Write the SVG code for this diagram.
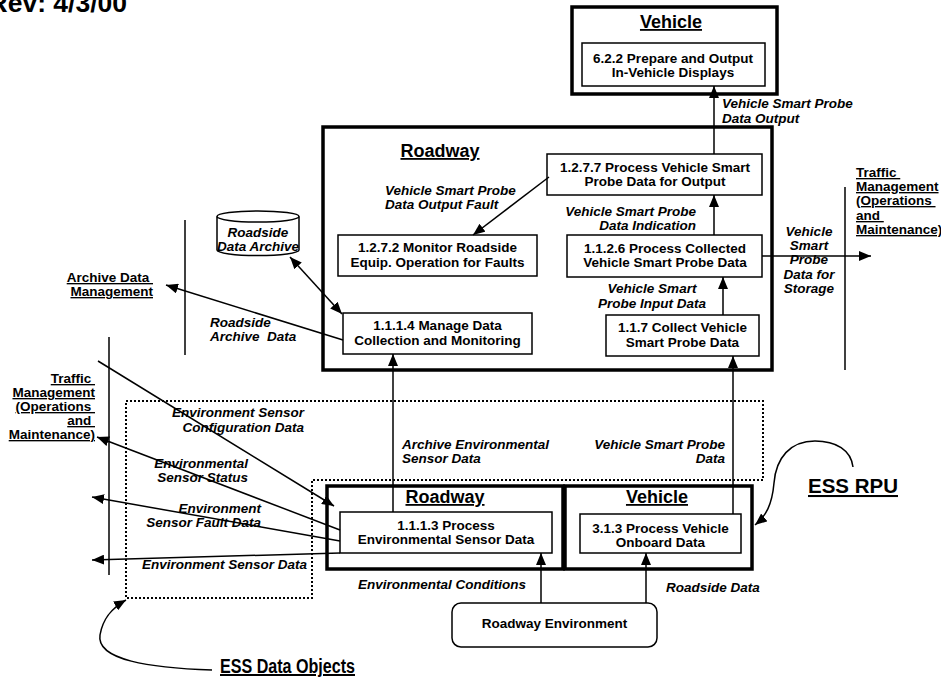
<svg xmlns="http://www.w3.org/2000/svg" width="941" height="683" viewBox="0 0 941 683">
  <style>
    text { font-family: "Liberation Sans", Arial, sans-serif; fill: #000; }
    .bx { font-weight: bold; font-size: 13.5px; text-anchor: middle; }
    .lb { font-weight: bold; font-style: italic; font-size: 13.5px; }
    .ttl { font-weight: bold; font-size: 18px; text-anchor: middle; text-decoration: underline; }
    .ext { font-weight: bold; font-size: 13.5px; text-decoration: underline; }
    .box { fill: #fff; stroke: #000; stroke-width: 1.5; }
    .thick { fill: none; stroke: #000; stroke-width: 3.5; }
    .cn { fill: none; stroke: #000; stroke-width: 1.5; }
    .arr { marker-end: url(#ah); }
    .dot { fill: none; stroke: #000; stroke-width: 2; stroke-dasharray: 2 2; }
    .mid { text-anchor: middle; }
    .end { text-anchor: end; }
  </style>
  <defs>
    <marker id="ah" viewBox="0 0 12 10" refX="12" refY="5" markerWidth="12" markerHeight="10" markerUnits="userSpaceOnUse" orient="auto-start-reverse">
      <path d="M0,0 L12,5 L0,10 z" fill="#000"/>
    </marker>
  </defs>
  <rect width="941" height="683" fill="#fff"/>

  <!-- revision stamp -->
  <text x="127" y="12" font-size="26.5" font-weight="bold" text-anchor="end">Rev: 4/3/00</text>

  <!-- data-object grouping outline -->
  <path class="dot" d="M126,401 H763 V480 H312 V598 H126 Z"/>

  <!-- external boundary lines -->
  <g id="boundaries">
    <line class="cn" x1="185" y1="220" x2="185" y2="355"/>
    <line class="cn" x1="109" y1="337" x2="109" y2="575"/>
    <line class="cn" x1="845" y1="187" x2="845" y2="370"/>
  </g>

  <!-- Vehicle (top) -->
  <g id="vehicle-top">
    <rect class="thick" x="572" y="7" width="205" height="87"/>
    <text class="ttl" x="671" y="28">Vehicle</text>
  </g>
  <g id="p622">
    <rect class="box" x="582" y="43" width="183" height="43"/>
    <text class="bx" x="673" y="63">6.2.2 Prepare and Output</text>
    <text class="bx" x="673" y="77">In-Vehicle Displays</text>
  </g>

  <!-- Roadway (upper) -->
  <g id="roadway-top">
    <rect class="thick" x="323" y="127" width="449" height="243"/>
    <text class="ttl" x="440" y="157">Roadway</text>
  </g>
  <g id="p1277">
    <rect class="box" x="547" y="154" width="215" height="41"/>
    <text class="bx" x="655" y="172">1.2.7.7 Process Vehicle Smart</text>
    <text class="bx" x="655" y="186">Probe Data for Output</text>
  </g>
  <g id="p1272">
    <rect class="box" x="338" y="235" width="199" height="41"/>
    <text class="bx" x="437.5" y="252">1.2.7.2 Monitor Roadside</text>
    <text class="bx" x="437.5" y="267">Equip. Operation for Faults</text>
  </g>
  <g id="p1126">
    <rect class="box" x="567" y="235" width="195" height="42"/>
    <text class="bx" x="665" y="253">1.1.2.6 Process Collected</text>
    <text class="bx" x="665" y="267">Vehicle Smart Probe Data</text>
  </g>
  <g id="p1114">
    <rect class="box" x="343" y="313" width="189" height="41"/>
    <text class="bx" x="437.5" y="330">1.1.1.4 Manage Data</text>
    <text class="bx" x="437.5" y="345">Collection and Monitoring</text>
  </g>
  <g id="p117">
    <rect class="box" x="606" y="315" width="153" height="41"/>
    <text class="bx" x="682.5" y="332">1.1.7 Collect Vehicle</text>
    <text class="bx" x="682.5" y="347">Smart Probe Data</text>
  </g>

  <!-- Roadside Data Archive store -->
  <g id="archive">
    <path d="M217,216.5 V250 A41,5.5 0 0 0 299,250 V216.5" fill="#fff" stroke="#000" stroke-width="1.5"/>
    <ellipse cx="258" cy="216.5" rx="41" ry="5.5" fill="#fff" stroke="#000" stroke-width="1.5"/>
    <text class="lb mid" x="258" y="237">Roadside</text>
    <text class="lb mid" x="258" y="251">Data Archive</text>
  </g>

  <!-- terminators -->
  <g id="adm">
    <text class="ext end" x="153" y="282" xml:space="preserve">Archive Data </text>
    <text class="ext end" x="153" y="296">Management</text>
  </g>
  <g id="tm-left">
    <text class="ext end" x="95" y="383" font-size="13" xml:space="preserve">Traffic </text>
    <text class="ext end" x="95" y="397" font-size="13">Management</text>
    <text class="ext end" x="95" y="411" font-size="13" xml:space="preserve">(Operations </text>
    <text class="ext end" x="95" y="425" font-size="13" xml:space="preserve">and </text>
    <text class="ext end" x="95" y="439" font-size="13">Maintenance)</text>
  </g>
  <g id="tm-right">
    <text class="ext" x="856" y="177" xml:space="preserve">Traffic </text>
    <text class="ext" x="856" y="191">Management</text>
    <text class="ext" x="856" y="205" xml:space="preserve">(Operations </text>
    <text class="ext" x="856" y="220" xml:space="preserve">and </text>
    <text class="ext" x="856" y="234">Maintenance)</text>
  </g>

  <!-- Roadway / Vehicle (lower) -->
  <g id="roadway-low">
    <rect class="thick" x="327" y="486" width="236" height="83"/>
    <text class="ttl" x="445" y="503">Roadway</text>
  </g>
  <g id="vehicle-low">
    <rect class="thick" x="565" y="486" width="187" height="83"/>
    <text class="ttl" x="657" y="503">Vehicle</text>
  </g>
  <g id="p1113">
    <rect class="box" x="340" y="512" width="212" height="41"/>
    <text class="bx" x="446" y="530">1.1.1.3 Process</text>
    <text class="bx" x="446" y="544">Environmental Sensor Data</text>
  </g>
  <g id="p313">
    <rect class="box" x="580" y="514" width="161" height="39"/>
    <text class="bx" x="660.5" y="533">3.1.3 Process Vehicle</text>
    <text class="bx" x="660.5" y="547">Onboard Data</text>
  </g>
  <g id="roadway-env">
    <rect class="box" x="452" y="603" width="205" height="44" rx="9"/>
    <text class="bx" x="554.5" y="628">Roadway Environment</text>
  </g>

  <!-- callouts -->
  <g id="ess-data-objects">
    <text x="220" y="673" font-family="'Liberation Sans Narrow', 'Liberation Sans', sans-serif" font-weight="bold" font-size="20" text-decoration="underline" textLength="135" lengthAdjust="spacingAndGlyphs">ESS Data Objects</text>
  </g>
  <g id="ess-rpu">
    <text x="808" y="493" font-weight="bold" font-size="20.5" text-decoration="underline">ESS RPU</text>
  </g>

  <!-- connectors -->
  <g id="connectors">
    <path class="cn arr" d="M714,154 V86"/>
    <path class="cn arr" d="M549,177 L473,235"/>
    <path class="cn arr" d="M714,235 V195"/>
    <path class="cn arr" d="M723,315 V277"/>
    <path class="cn arr" d="M762,256 H871"/>
    <path class="cn arr" d="M343,340 L166,285"/>
    <path class="cn arr" d="M342,314 L290,257" marker-start="url(#ah)"/>
    <path class="cn arr" d="M393,512 V354"/>
    <path class="cn arr" d="M733,514 V356"/>
    <path class="cn arr" d="M98,361 L334,506"/>
    <path class="cn arr" d="M340,530 L97,437"/>
    <path class="cn arr" d="M340,541 L92,497"/>
    <path class="cn arr" d="M340,553 L92,560"/>
    <path class="cn arr" d="M541,603 V553"/>
    <path class="cn arr" d="M646,603 V553"/>
    <path class="cn arr" d="M212,670 C150,668 96,660 100,635 C103,618 112,608 126,600"/>
    <path class="cn arr" d="M853,467 C851,450 836,441 815,441 C790,441 776,458 774,483 C772,505 766,516 755,525"/>
  </g>

  <!-- flow labels -->
  <g id="flow-labels">
    <text class="lb" x="722" y="108">Vehicle Smart Probe</text>
    <text class="lb" x="722" y="123">Data Output</text>
    <text class="lb" x="385" y="195">Vehicle Smart Probe</text>
    <text class="lb" x="385" y="209">Data Output Fault</text>
    <text class="lb end" x="696" y="216">Vehicle Smart Probe</text>
    <text class="lb end" x="696" y="230">Data Indication</text>
    <text class="lb mid" x="652" y="293">Vehicle Smart</text>
    <text class="lb mid" x="652" y="308">Probe Input Data</text>
    <text class="lb mid" x="809" y="236">Vehicle</text>
    <text class="lb mid" x="809" y="250">Smart</text>
    <text class="lb mid" x="809" y="264">Probe</text>
    <text class="lb mid" x="809" y="279">Data for</text>
    <text class="lb mid" x="809" y="293">Storage</text>
    <text class="lb" x="210" y="327">Roadside</text>
    <text class="lb" x="210" y="341" xml:space="preserve">Archive  Data</text>
    <text class="lb end" x="304" y="417">Environment Sensor</text>
    <text class="lb end" x="304" y="432">Configuration Data</text>
    <text class="lb end" x="248" y="468">Environmental</text>
    <text class="lb end" x="248" y="482">Sensor Status</text>
    <text class="lb end" x="261" y="513">Environment</text>
    <text class="lb end" x="261" y="527">Sensor Fault Data</text>
    <text class="lb" x="142" y="569">Environment Sensor Data</text>
    <text class="lb" x="402" y="449">Archive Environmental</text>
    <text class="lb" x="402" y="463">Sensor Data</text>
    <text class="lb end" x="725" y="449">Vehicle Smart Probe</text>
    <text class="lb end" x="725" y="463">Data</text>
    <text class="lb" x="358" y="589">Environmental Conditions</text>
    <text class="lb" x="666" y="592">Roadside Data</text>
  </g>
</svg>
